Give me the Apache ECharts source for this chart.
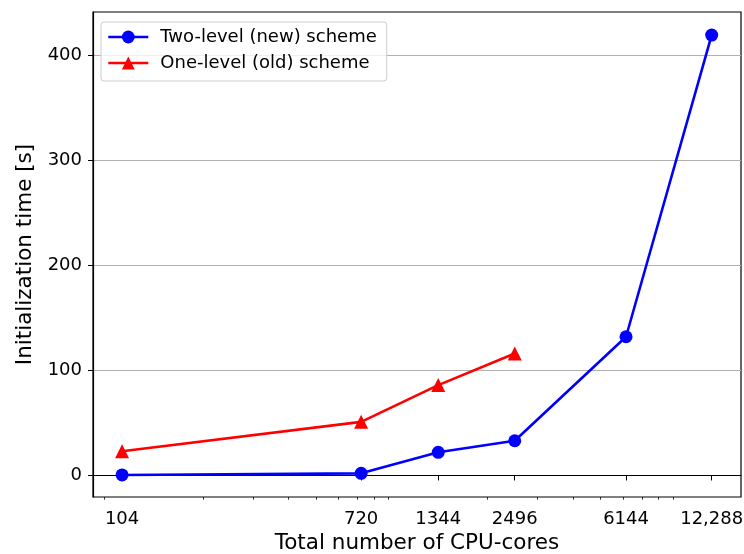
<!DOCTYPE html>
<html>
<head>
<meta charset="utf-8">
<script src="https://cdn.jsdelivr.net/npm/echarts@6/dist/echarts.min.js"></script>
<style>
  html, body { margin: 0; padding: 0; background: #fff; }
  #chart { width: 744px; height: 554px; }
</style>
</head>
<body>
<div id="chart"></div>
<script>
// CPU-core counts used in the scaling runs
const cores = [104, 720, 1344, 2496, 6144, 12288];
// Initialization time [s] for each scheme
const twoLevel = [0.5, 2, 22, 33, 132, 419];
const oneLevel = [23, 51, 86, 116];
// Tick labels on the core-count axis
const coreTickLabels = ['104', '720', '1344', '2496', '6144', '12,288'];
// Minor log ticks between the labelled core counts
const minorTicks = [90, 200, 300, 400, 500, 600, 700, 800, 900,
                    2000, 3000, 4000, 5000, 6000, 7000, 8000, 9000];
const yTicks = [0, 100, 200, 300, 400];

const FONT = 'DejaVu Sans';
const xMin = 82.2, xMax = 15580;

const chart = echarts.init(document.getElementById('chart'), null, { renderer: 'canvas' });

const labelFor = {};
cores.forEach((c, i) => { labelFor[c] = coreTickLabels[i]; });

chart.setOption({
  animation: false,
  backgroundColor: '#ffffff',
  grid: {
    left: 93, right: 3, top: 12, bottom: 57,
    outerBoundsMode: 'none',
    containLabel: false,
    show: true, borderColor: '#000', borderWidth: 1.2, backgroundColor: 'transparent'
  },
  legend: {
    left: 101, top: 22,
    orient: 'vertical',
    itemWidth: 40, itemHeight: 16, itemGap: 6,
    padding: [5, 10, 8, 6],
    borderColor: '#cccccc', borderWidth: 1, borderRadius: 3,
    backgroundColor: 'rgba(255,255,255,0.8)',
    lineStyle: { width: 2.6 },
    textStyle: { fontFamily: FONT, fontSize: 18, color: '#000', lineHeight: 20, padding: [0, 0, 0, 7] },
    data: ['Two-level (new) scheme', 'One-level (old) scheme']
  },
  xAxis: [
    {
      type: 'log', logBase: 10, min: xMin, max: xMax,
      name: 'Total number of CPU-cores', nameLocation: 'middle', nameGap: 35,
      nameTextStyle: { fontFamily: FONT, fontSize: 21.5, color: '#000' },
      axisLine: { show: true, lineStyle: { color: '#000', width: 1.2 } },
      axisTick: { show: true, length: 5, lineStyle: { color: '#000', width: 1 }, customValues: cores },
      axisLabel: {
        fontFamily: FONT, fontSize: 18, color: '#000', margin: 13,
        customValues: cores,
        formatter: v => labelFor[Math.round(v)] || ''
      },
      splitLine: { show: false },
      minorTick: { show: false }
    },
    {
      type: 'log', logBase: 10, min: xMin, max: xMax, position: 'bottom',
      axisLine: { show: false },
      axisTick: { show: true, length: 2.7, lineStyle: { color: '#000', width: 0.8 }, customValues: minorTicks },
      axisLabel: { show: false },
      splitLine: { show: false }
    }
  ],
  yAxis: {
    type: 'value', min: -20.5, max: 441,
    name: 'Initialization time [s]', nameLocation: 'middle', nameGap: 40,
    nameTextStyle: { fontFamily: FONT, fontSize: 21.5, color: '#000' },
    axisLine: { show: true, lineStyle: { color: '#000', width: 1.2 } },
    axisTick: { show: true, length: 5, lineStyle: { color: '#000', width: 1 }, customValues: yTicks },
    axisLabel: { fontFamily: FONT, fontSize: 18, color: '#000', margin: 11, customValues: yTicks },
    splitLine: { show: true, lineStyle: { color: '#b0b0b0', width: 1.1 } }
  },
  series: [
    {
      name: 'Two-level (new) scheme', type: 'line',
      data: cores.map((c, i) => [c, twoLevel[i]]),
      symbol: 'circle', symbolSize: 13,
      lineStyle: { color: '#0000ff', width: 2.6 },
      itemStyle: { color: '#0000ff' },
      z: 3
    },
    {
      name: 'One-level (old) scheme', type: 'line',
      data: oneLevel.map((v, i) => [cores[i], v]),
      symbol: 'triangle', symbolSize: 14,
      lineStyle: { color: '#ff0000', width: 2.6 },
      itemStyle: { color: '#ff0000' },
      z: 2
    }
  ]
});
</script>
</body>
</html>
